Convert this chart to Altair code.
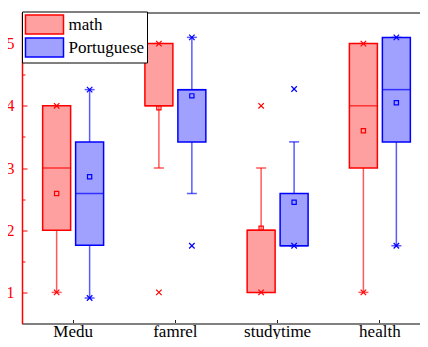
import altair as alt
import pandas as pd

variables = ["Medu", "famrel", "studytime", "health"]
subjects = ["math", "Portuguese"]

# math (red) box statistics, one value per variable
math_lo = [1.0, 3.0, 1.0, 1.0]
math_q1 = [2.0, 4.0, 1.0, 3.0]
math_median = [3.0, 4.0, 2.0, 4.0]
math_q3 = [4.0, 5.0, 2.0, 5.0]
math_hi = [4.0, 5.0, 3.0, 5.0]
math_mean = [2.59, 3.97, 2.03, 3.60]
math_min = [1.0, 1.0, 1.0, 1.0]
math_max = [4.0, 5.0, 4.0, 5.0]

# Portuguese (blue) box statistics
por_lo = [0.91, 2.59, 1.75, 1.75]
por_q1 = [1.76, 3.42, 1.75, 3.42]
por_median = [2.59, 4.26, 1.75, 4.26]
por_q3 = [3.42, 4.26, 2.59, 5.10]
por_hi = [4.26, 5.10, 3.42, 5.10]
por_mean = [2.86, 4.16, 2.45, 4.05]
por_min = [0.91, 1.75, 1.75, 1.75]
por_max = [4.26, 5.10, 4.27, 5.10]

y_ticks = [1, 1.5, 2, 2.5, 3, 3.5, 4, 4.5, 5]

rows = []
for subj, st in [
    ("math", (math_lo, math_q1, math_median, math_q3, math_hi, math_mean, math_min, math_max)),
    ("Portuguese", (por_lo, por_q1, por_median, por_q3, por_hi, por_mean, por_min, por_max)),
]:
    for i, v in enumerate(variables):
        rows.append({
            "variable": v, "subject": subj,
            "lo": st[0][i], "q1": st[1][i], "median": st[2][i], "q3": st[3][i],
            "hi": st[4][i], "mean": st[5][i], "min": st[6][i], "max": st[7][i],
        })
df = pd.DataFrame(rows)

SERIF = "Liberation Serif"
RED = "#ff0000"
BLUE = "#0000ff"
XPATH = "M-1,-1L1,1M-1,1L1,-1"

yscale = alt.Scale(domain=[0.5, 5.5], nice=False, zero=False)
yaxis = alt.Axis(
    title=None, values=y_ticks, grid=False,
    labelExpr="datum.value % 1 ? '' : format(datum.value, 'd')",
    tickSize=alt.ExprRef("datum.value % 1 ? -3 : -5"),
    tickColor=RED, domainColor=RED, labelColor=RED, domainWidth=1.5, tickWidth=1,
    labelFont=SERIF, labelFontSize=16, labelPadding=13,
)


def Y(field):
    return alt.Y(field, scale=yscale, axis=yaxis)


# line-type layers: separate colour scale (reversed domain so its hidden legend stays apart)
color_enc = alt.Color(
    "subject:N",
    scale=alt.Scale(domain=subjects[::-1], range=[BLUE, RED]),
    legend=None,
)

legend = alt.Legend(
    title=None, orient="none", legendX=0, legendY=-1,
    symbolType="M-1,-1H3V1H-1Z", symbolSize=361, symbolStrokeWidth=1.5,
    labelFont=SERIF, labelFontSize=17, labelColor="black", labelOffset=23,
    padding=2.5, rowPadding=alt.ExprRef("-2.5"), fillColor="white", strokeColor="black",
    symbolOpacity=1,
)

base = alt.Chart(df).encode(
    x=alt.X(
        "variable:N", sort=variables,
        scale=alt.Scale(domain=variables, paddingInner=0, paddingOuter=0),
        axis=alt.Axis(
            title=None, labelAngle=0, grid=False,
            domainColor="#808080", domainWidth=2, tickColor="#222222", tickWidth=1,
            tickSize=alt.ExprRef("-4"), labelPadding=16.5, labelBaseline="alphabetic",
            labelFont=SERIF, labelFontSize=17, labelColor="black",
        ),
    ),
    xOffset=alt.XOffset(
        "subject:N", sort=subjects,
        scale=alt.Scale(domain=subjects, paddingInner=0.1515, paddingOuter=0.626),
    ),
)

whisker = base.mark_rule(strokeWidth=1.5, opacity=0.65).encode(y=Y("lo:Q"), y2="hi:Q", color=color_enc)
cap_lo = base.mark_tick(size=10, thickness=1.5, opacity=0.65).encode(y=Y("lo:Q"), color=color_enc)
cap_hi = base.mark_tick(size=10, thickness=1.5, opacity=0.65).encode(y=Y("hi:Q"), color=color_enc)
box = base.mark_bar(strokeWidth=1.5).encode(
    y=Y("q1:Q"), y2="q3:Q",
    fill=alt.Fill("subject:N", scale=alt.Scale(domain=subjects, range=["#ffa0a0", "#a0a0ff"]), legend=legend),
    stroke=alt.Stroke("subject:N", scale=alt.Scale(domain=subjects, range=[RED, BLUE]), legend=legend),
)
median = base.mark_tick(size=28, thickness=1.5).encode(y=Y("median:Q"), color=color_enc)
mean = base.mark_point(shape="square", size=18, filled=False, strokeWidth=1.2, opacity=1).encode(
    y=Y("mean:Q"), color=color_enc)
mn = base.mark_point(shape=XPATH, size=30, filled=False, strokeWidth=1.2, opacity=1).encode(
    y=Y("min:Q"), color=color_enc)
mx = base.mark_point(shape=XPATH, size=30, filled=False, strokeWidth=1.2, opacity=1).encode(
    y=Y("max:Q"), color=color_enc)

chart = alt.layer(whisker, cap_lo, cap_hi, box, median, mean, mn, mx).properties(
    width=409, height=311,
    autosize=alt.AutoSizeParams(type="none"),
    padding={"left": 14, "top": 4.5, "right": -11, "bottom": 15.5},
).configure_view(stroke="black", strokeWidth=1)

chart.save("out.html", embed_options={"renderer": "svg", "actions": False})
